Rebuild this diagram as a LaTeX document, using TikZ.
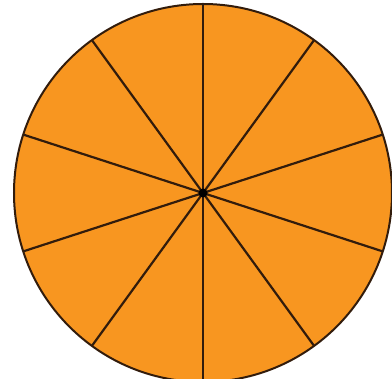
\documentclass[tikz,border=0pt]{standalone}
\usetikzlibrary{calc}
\definecolor{pieorange}{RGB}{248,150,32}
\definecolor{spoke}{RGB}{50,28,12}
\begin{document}
\begin{tikzpicture}[x=1pt,y=1pt,
  spokeline/.style={draw=spoke,line width=2.2pt},
  rim/.style={draw=spoke,line width=2pt,fill=pieorange}]
\useasboundingbox (0,0) rectangle (392,379);
\clip (0,0) rectangle (392,379);
\fill[white] (0,0) rectangle (392,379);
\coordinate (c) at (203,186);
\draw[rim] (c) circle (189);
\foreach \a in {90,54,18,-18,-54,-90,-126,-162,162,126}{
  \coordinate (e\a) at ($(c)+(\a:189)$);
}
\foreach \a in {90,54,18,-18,-54,-90,-126,-162,162,126}{
  \draw[spokeline] (c) -- (e\a);
}
\fill[black] (c) circle (4.5);
\end{tikzpicture}
\end{document}
